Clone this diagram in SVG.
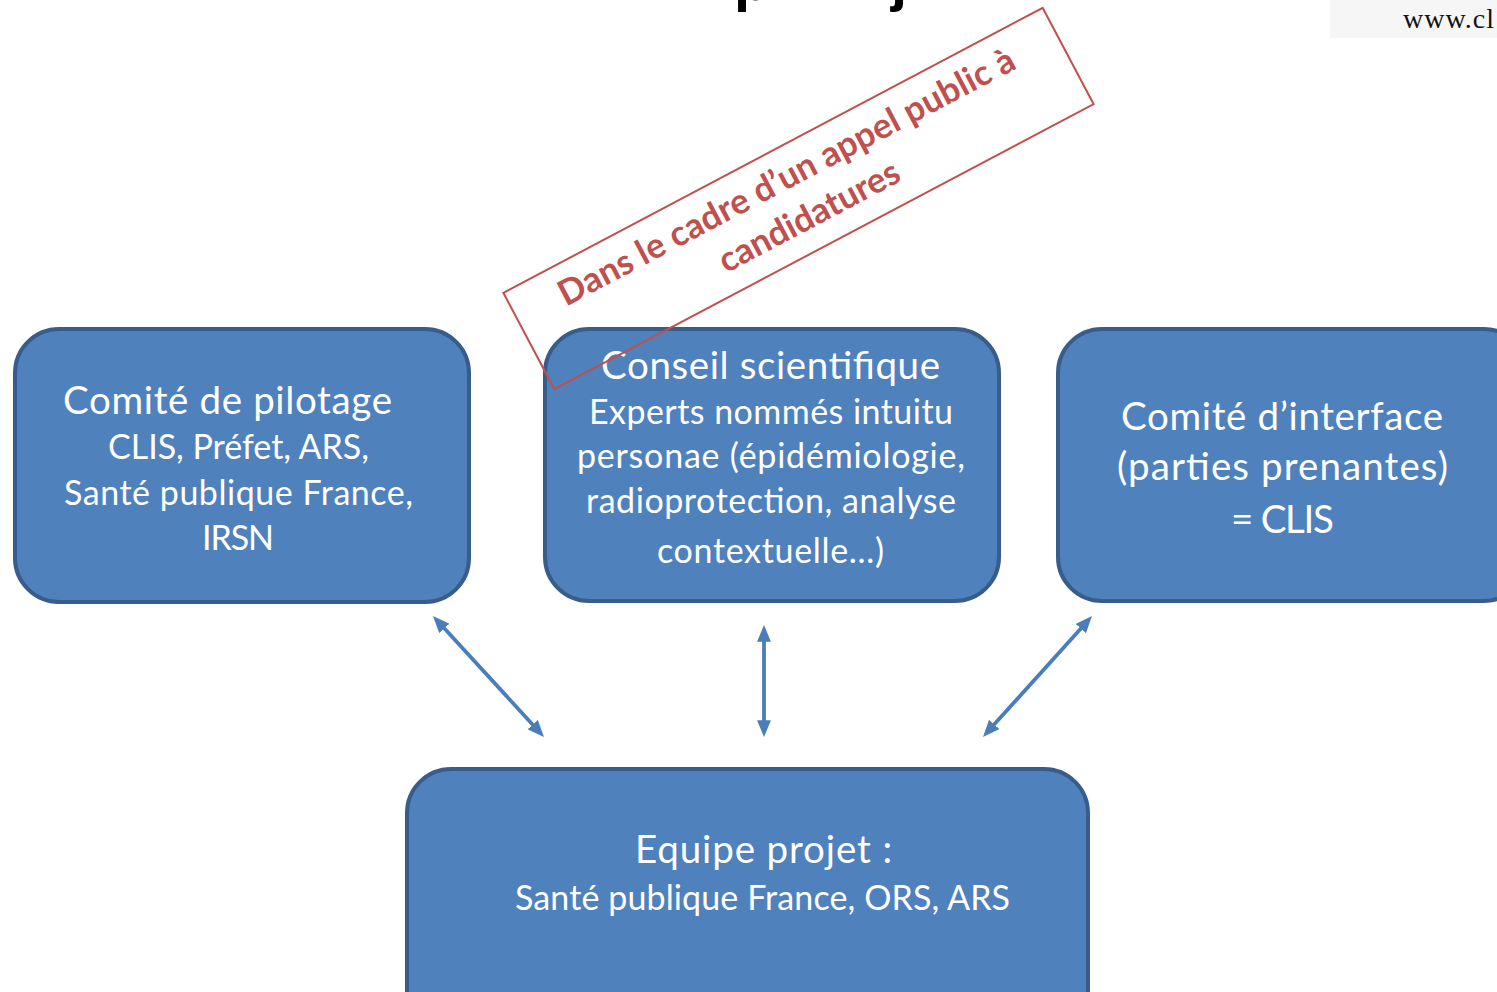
<svg xmlns="http://www.w3.org/2000/svg" width="1497" height="992" viewBox="0 0 1497 992">
  <style>
    .box { fill: #4f81bd; stroke: #385d8a; stroke-width: 4; }
    .big { font-family: Lato, "Open Sans", sans-serif; font-size: 38.5px; fill: #ffffff; }
    .small { font-family: Lato, "Open Sans", sans-serif; font-size: 34px; fill: #ffffff; }
    .note { font-family: Lato, "Open Sans", sans-serif; font-weight: bold; font-size: 35px; fill: #c0504d; }
    .conn { stroke: #4a7ebb; stroke-width: 3.8; fill: none; marker-start: url(#ah); marker-end: url(#ah); }
    .title { font-family: "Liberation Sans", Arial, sans-serif; font-weight: bold; font-size: 58px; fill: #000000; }
  </style>
  <defs>
    <marker id="ah" viewBox="0 0 12 10" refX="3" refY="5" markerWidth="4.4" markerHeight="3.7" markerUnits="strokeWidth" orient="auto-start-reverse">
      <path d="M0,0 L12,5 L0,10 z" fill="#4a7ebb"/>
    </marker>
  </defs>
  <rect x="0" y="0" width="1497" height="992" fill="#ffffff"/>

  <g id="title-fragment">
    <text class="title" x="734" y="0">p</text>
    <text class="title" x="891" y="0">j</text>
  </g>

  <g id="url">
    <rect x="1330" y="0" width="167" height="38" fill="#f6f6f6"/>
    <text x="1403" y="28" font-family="'Liberation Serif', 'Times New Roman', serif" font-size="28" fill="#111111" textLength="91">www.cl</text>
  </g>

  <g id="comite-pilotage">
    <rect class="box" x="15" y="329" width="454" height="273" rx="44" ry="44"/>
    <text class="big" x="63" y="414" textLength="329">Comité de pilotage</text>
    <text class="small" x="108" y="459" textLength="261">CLIS, Préfet, ARS,</text>
    <text class="small" x="64" y="505" textLength="349">Santé publique France,</text>
    <text class="small" x="202" y="550" textLength="72">IRSN</text>
  </g>

  <g id="conseil-scientifique">
    <rect class="box" x="545" y="329" width="454" height="272" rx="44" ry="44"/>
    <text class="big" x="601" y="379" textLength="339">Conseil scientifique</text>
    <text class="small" x="589" y="424" textLength="364">Experts nommés intuitu</text>
    <text class="small" x="577" y="468" textLength="388">personae (épidémiologie,</text>
    <text class="small" x="586" y="513" textLength="370">radioprotection, analyse</text>
    <text class="small" x="657" y="563" textLength="227">contextuelle…)</text>
  </g>

  <g id="appel-candidatures" transform="translate(798.5 198.5) rotate(-27.86)">
    <rect x="-305" y="-54.5" width="610" height="109" fill="none" stroke="#c0504d" stroke-width="2"/>
    <text class="note" x="-256" y="-13" textLength="511">Dans le cadre d’un appel public à</text>
    <text class="note" x="-99" y="32.5" textLength="200">candidatures</text>
  </g>

  <g id="comite-interface">
    <rect class="box" x="1058" y="329" width="470" height="272" rx="44" ry="44"/>
    <text class="big" x="1121" y="430" textLength="322">Comité d’interface</text>
    <text class="big" x="1117" y="480" textLength="331">(parties prenantes)</text>
    <text class="big" x="1231" y="533" textLength="103">= CLIS</text>
  </g>

  <g id="equipe-projet">
    <rect class="box" x="407" y="769" width="681" height="272" rx="44" ry="44"/>
    <text class="big" x="635" y="863" textLength="257">Equipe projet :</text>
    <text class="small" x="515" y="910" textLength="495">Santé publique France, ORS, ARS</text>
  </g>

  <g id="connectors">
    <line class="conn" x1="441.5" y1="625.3" x2="535.5" y2="727.7"/>
    <line class="conn" x1="764" y1="637.6" x2="764" y2="724.4"/>
    <line class="conn" x1="1083.6" y1="625.4" x2="991.4" y2="727.6"/>
  </g>
</svg>
